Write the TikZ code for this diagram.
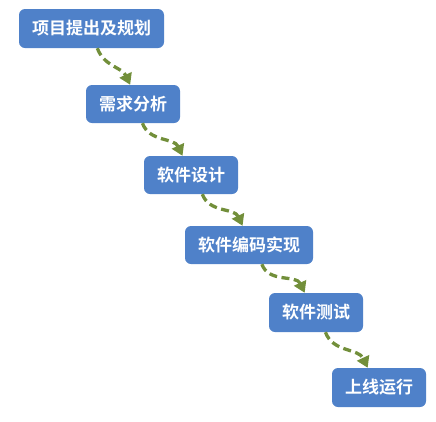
\documentclass[tikz,border=0pt]{standalone}
\usepackage{fontspec}
\newfontfamily\cjk{Noto Sans CJK SC}[BoldFont={Noto Sans CJK SC Bold}]
\usetikzlibrary{arrows.meta,calc}
\definecolor{boxblue}{HTML}{4F81C9}
\definecolor{arrgreen}{HTML}{728F3A}
\tikzset{
  stepbox/.style={rectangle, rounded corners=6pt, fill=boxblue, draw=none,
    text=white, font=\cjk\bfseries\fontsize{17}{19}\selectfont, inner sep=0pt,
    minimum height=38pt},
  flowarrow/.style={draw=arrgreen, line width=3.3pt, dash pattern=on 8pt off 4.5pt,
    -{Triangle[width=13pt,length=11pt]}, out=-70, in=115}
}
\begin{document}
\begin{tikzpicture}[x=1pt,y=-1pt]
\useasboundingbox (0,0) rectangle (436,421);
\node[stepbox, minimum width=145pt, minimum height=39pt] (b1) at (91.5,28.5) {项目提出及规划};
\node[stepbox, minimum width=94pt] (b2) at (133,104) {需求分析};
\node[stepbox, minimum width=94pt] (b3) at (191,175) {软件设计};
\node[stepbox, minimum width=128pt] (b4) at (249,245) {软件编码实现};
\node[stepbox, minimum width=94pt, minimum height=39pt] (b5) at (316,312.5) {软件测试};
\node[stepbox, minimum width=94pt, minimum height=39pt] (b6) at (379,387.5) {上线运行};
\coordinate (s1) at ($(b1.south west)!0.54!(b1.south east)$);
\coordinate (e1) at ($(b2.north west)!0.47!(b2.north east)$);
\coordinate (s2) at ($(b2.south west)!0.6!(b2.south east)$);
\coordinate (e2) at ($(b3.north west)!0.41!(b3.north east)$);
\coordinate (s3) at ($(b3.south west)!0.62!(b3.south east)$);
\coordinate (e3) at ($(b4.north west)!0.45!(b4.north east)$);
\coordinate (s4) at ($(b4.south west)!0.6!(b4.south east)$);
\coordinate (e4) at ($(b5.north west)!0.38!(b5.north east)$);
\coordinate (s5) at ($(b5.south west)!0.6!(b5.south east)$);
\coordinate (e5) at ($(b6.north west)!0.38!(b6.north east)$);
\draw[flowarrow] (s1) to (e1);
\draw[flowarrow] (s2) to (e2);
\draw[flowarrow] (s3) to (e3);
\draw[flowarrow] (s4) to (e4);
\draw[flowarrow] (s5) to (e5);
\end{tikzpicture}
\end{document}
